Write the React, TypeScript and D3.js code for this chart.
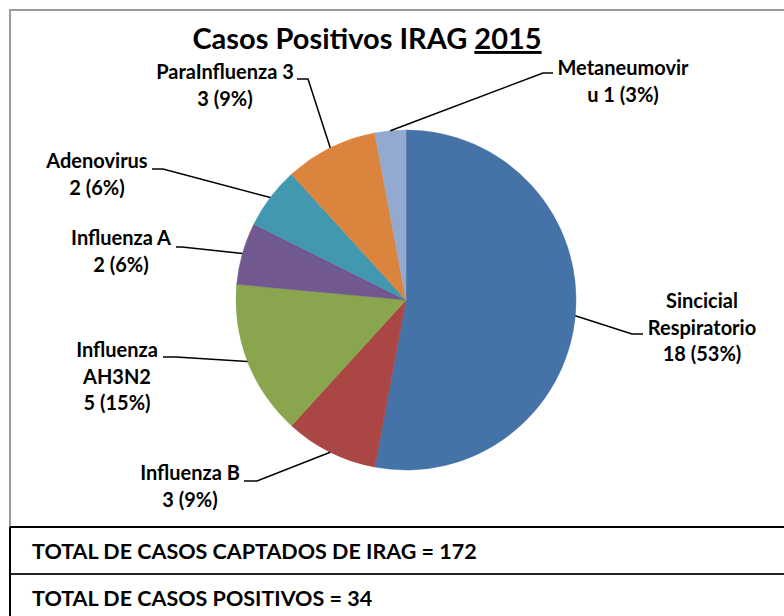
import React from 'react';
import * as d3 from 'd3';

const categories = [
  'Sincicial Respiratorio',
  'Influenza B',
  'Influenza AH3N2',
  'Influenza A',
  'Adenovirus',
  'ParaInfluenza 3',
  'Metaneumovirus',
];
const values = [18, 3, 5, 2, 2, 3, 1];
const colors = ['#4572A7', '#AA4643', '#89A54E', '#71588F', '#4198AF', '#DB843D', '#93A9CF'];
// how each label name wraps in the reference; joinLast = value text joins the last line
const nameLines = [
  ['Sincicial', 'Respiratorio'],
  ['Influenza B'],
  ['Influenza', 'AH3N2'],
  ['Influenza A'],
  ['Adenovirus'],
  ['ParaInfluenza 3'],
  ['Metaneumovir', 'u'],
];
const joinLast = [false, false, false, false, false, false, true];

const titleMain = 'Casos Positivos IRAG ';
const titleYear = '2015';
const totalCaptados = 172;
const footerLines = [
  `TOTAL DE CASOS CAPTADOS DE IRAG = ${totalCaptados}`,
  `TOTAL DE CASOS POSITIVOS = ${d3.sum(values)}`,
];

// layout (label centre x, first baseline y, leader elbow, leader end)
const labelLayout = [
  { x: 702, y: 308, elbow: [632, 334], end: [643, 334] },
  { x: 190, y: 480, elbow: [257, 481], end: [244, 481] },
  { x: 117, y: 357, elbow: [176, 357], end: [163, 357] },
  { x: 121, y: 245, elbow: [182, 247], end: [176, 247] },
  { x: 97, y: 168, elbow: [163, 169], end: [152, 169] },
  { x: 225, y: 79, elbow: [308, 79], end: [297, 79] },
  { x: 623, y: 75, elbow: [543, 73], end: [553, 73] },
];

const FONT = 'Lato, "Open Sans", sans-serif';
const cx = 406;
const cy = 300;
const R = 170;
const LINE_H = 26.5;

export default function App() {
  const total = d3.sum(values);
  const pct = d3.format('.0%');
  const data = categories.map((c, i) => ({ c, v: values[i], i }));
  const pie = d3.pie<any>().sort(null).value((d) => d.v).startAngle(0).endAngle(2 * Math.PI);
  const arcs = pie(data);
  const arc = d3.arc<any>().innerRadius(0).outerRadius(R);

  return (
    <svg
      width={784}
      height={616}
      style={{ position: 'absolute', left: 0, top: 0, background: '#fff' }}
      fontFamily={FONT}
      fontWeight="bold"
    >
      <rect x={0} y={0} width={784} height={616} fill="#fff" />
      {/* chart frame */}
      <path d="M10,527 L10,10 L790,10" fill="none" stroke="#9a9a9a" strokeWidth={2} />
      {/* footer table */}
      <line x1={10} y1={527} x2={790} y2={527} stroke="#000" strokeWidth={2} />
      <line x1={10} y1={574} x2={790} y2={574} stroke="#222" strokeWidth={2} />
      <line x1={10} y1={527} x2={10} y2={620} stroke="#000" strokeWidth={2} />

      <text x={367} y={49} textAnchor="middle" fontSize={29} fill="#000">
        {titleMain}
        <tspan textDecoration="underline" style={{ textDecoration: 'underline' }}>{titleYear}</tspan>
      </text>

      <g transform={`translate(${cx},${cy})`}>
        {arcs.map((a) => (
          <path key={a.data.c} d={arc(a) as string} fill={colors[a.data.i]} stroke={colors[a.data.i]} strokeWidth={0.5} />
        ))}
      </g>

      {arcs.map((a) => {
        const i = a.data.i;
        const mid = (a.startAngle + a.endAngle) / 2;
        const rx = cx + R * Math.sin(mid);
        const ry = cy - R * Math.cos(mid);
        const L = labelLayout[i];
        const vt = `${a.data.v} (${pct(a.data.v / total)})`;
        const lines = nameLines[i].slice();
        if (joinLast[i]) lines[lines.length - 1] = lines[lines.length - 1] + ' ' + vt;
        else lines.push(vt);
        return (
          <g key={'l' + i}>
            <polyline
              points={`${rx},${ry} ${L.elbow[0]},${L.elbow[1]} ${L.end[0]},${L.end[1]}`}
              fill="none"
              stroke="#000"
              strokeWidth={1.5}
            />
            <text x={L.x} y={L.y} textAnchor="middle" fontSize={20} fill="#000">
              {lines.map((t, k) => (
                <tspan key={k} x={L.x} y={L.y + k * LINE_H}>
                  {t}
                </tspan>
              ))}
            </text>
          </g>
        );
      })}

      {footerLines.map((t, k) => (
        <text key={k} x={32} y={559 + k * 47} fontSize={21.5} fill="#000">
          {t}
        </text>
      ))}
    </svg>
  );
}
